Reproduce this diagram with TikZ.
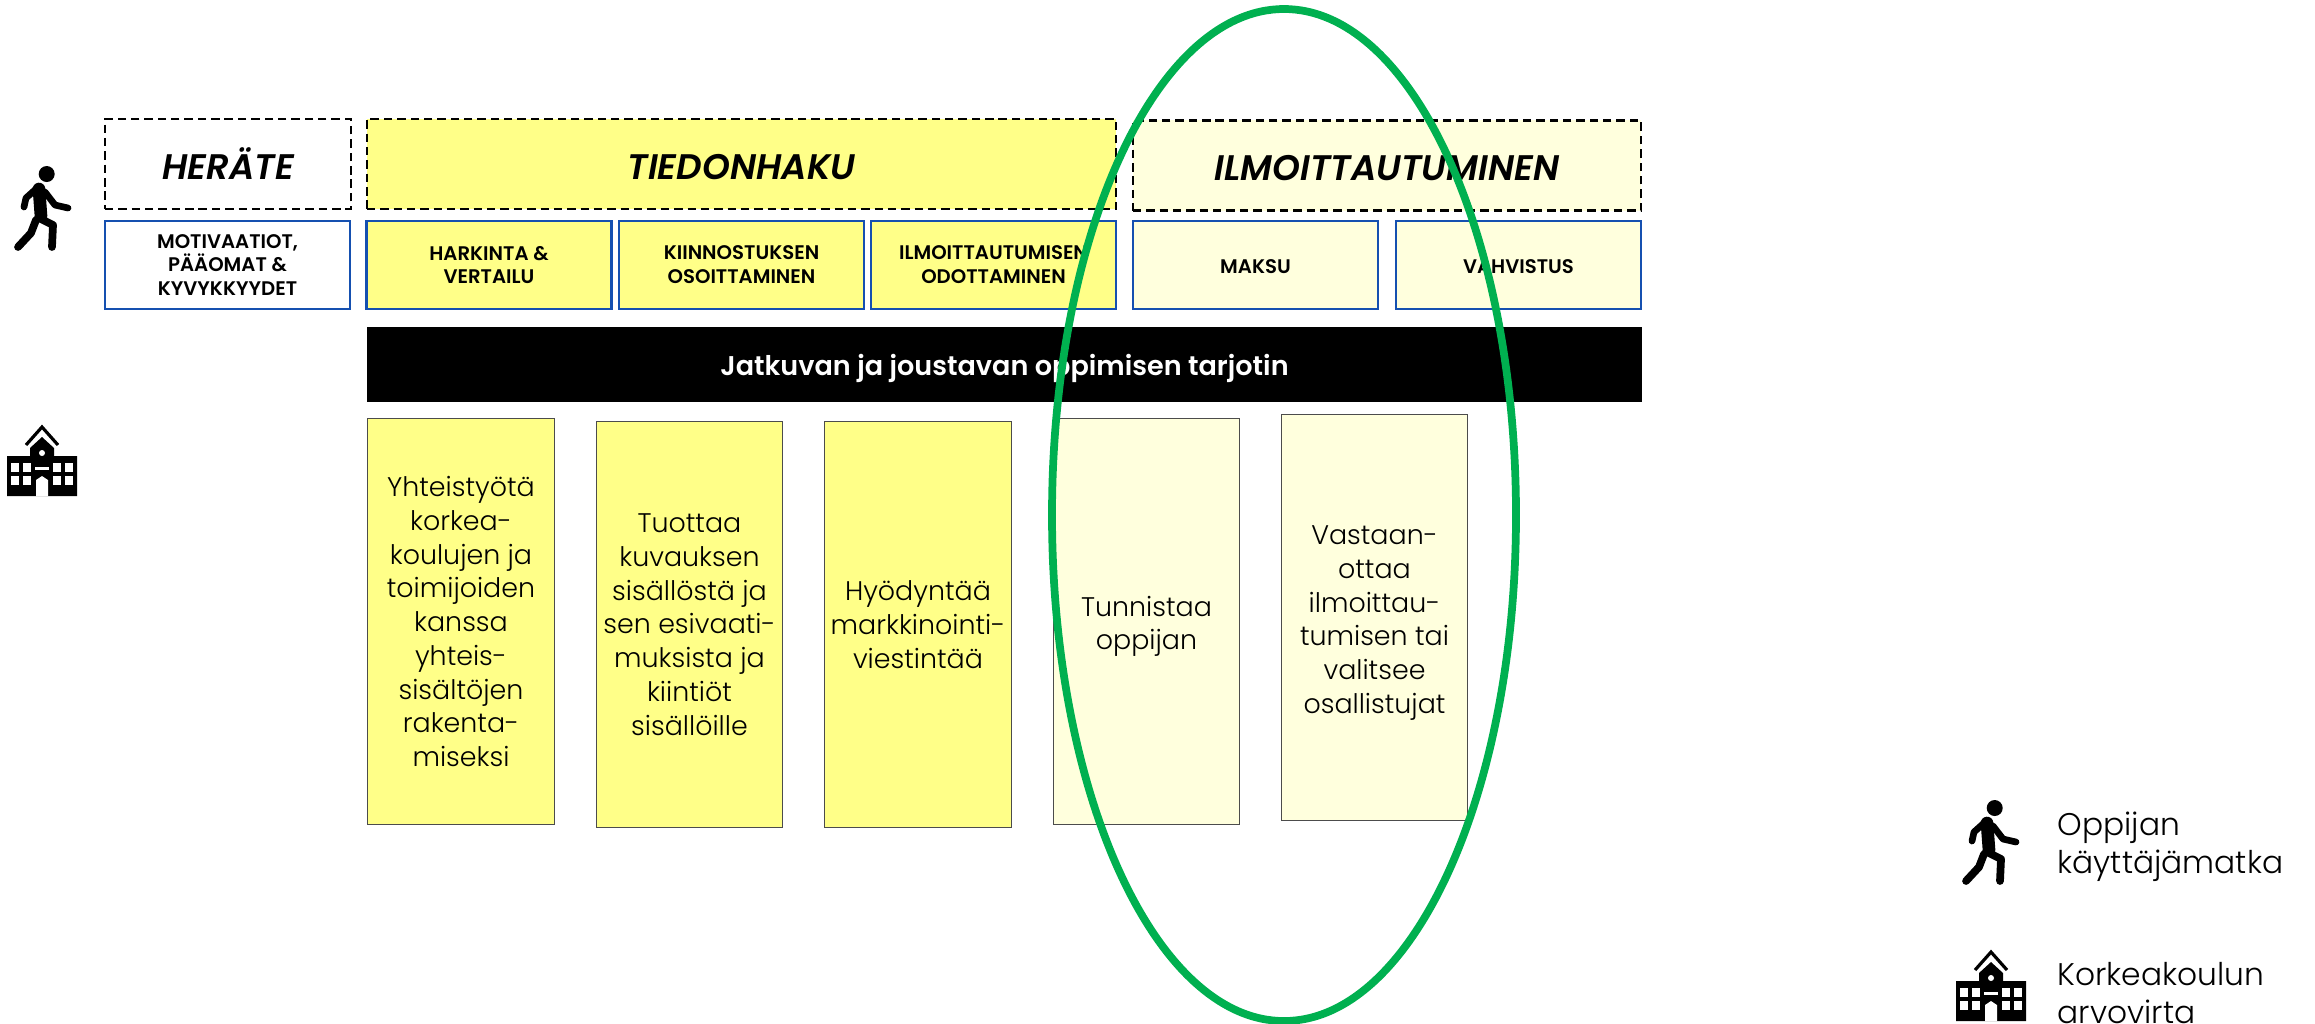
\documentclass[tikz,border=0pt]{standalone}
\usepackage{fontspec}
\setmainfont{Poppins Light}[BoldFont=Poppins SemiBold,BoldItalicFont=Poppins SemiBold Italic]
\usepackage{xcolor}
\definecolor{hakuyellow}{HTML}{FFFF88}
\definecolor{ilmopale}{HTML}{FFFFDD}
\definecolor{subblue}{HTML}{1550B0}
\definecolor{ovalgreen}{HTML}{00B050}
\newcommand{\dropline}{\rule{0pt}{8.5pt}}
\tikzset{
  textdown/.style={execute at begin node=\rule{0pt}{#1}},
  headbox/.style={draw=black,dash pattern=on 2.4pt off 1.4pt,line width=0.7pt,minimum height=0.9cm,text height=0.3cm,text depth=0cm,font=\fontsize{10.1}{12}\selectfont\bfseries\itshape},
  subbox/.style={draw=subblue,line width=0.7pt,minimum width=2.45cm,minimum height=0.88cm,align=center,inner sep=0pt,textdown=4.7pt,font=\fontsize{5.6}{6.8}\selectfont\bfseries},
  textbox/.style={draw=black!70,line width=0.3pt,minimum width=1.86cm,minimum height=4.05cm,align=center,inner sep=0pt,font=\fontsize{7.65}{9.6}\selectfont},
  legendtext/.style={anchor=west,align=left,inner sep=0pt,font=\fontsize{8.9}{10.8}\selectfont},
  walker/.pic={
    \fill (31.7,8) circle (8);
    \draw[line width=3.6pt,line cap=round,line join=round] (24,23) -- (26,50);
    \draw[line width=1.9pt,line cap=round,line join=round] (21,23) -- (11,32) -- (9,41);
    \draw[line width=1.9pt,line cap=round,line join=round] (30,26) -- (40,39) -- (53,42);
    \draw[line width=2.2pt,line cap=round,line join=round] (24,52) -- (38,59) -- (37,81);
    \draw[line width=2.2pt,line cap=round,line join=round] (21,54) -- (16,67) -- (3,81);
  },
  school/.pic={
    \draw[line width=0.9pt] (20,19) -- (36,1) -- (52,19);
    \fill (36,11) -- (24,22) -- (24,30) -- (71,30) -- (71,70) -- (1,70) -- (1,30) -- (48,30) -- (48,22) -- cycle;
    \fill[white] (36,27) circle (3);
    \foreach \wx in {5,17,47,59} \foreach \wy in {37,50} \fill[white] (\wx,\wy) rectangle ++(8,9);
    \fill[white] (29,41) rectangle (43,44);
    \fill[white] (30,70) -- (30,54) -- (36,50) -- (42,54) -- (42,70) -- cycle;
  },
}
\begin{document}
\begin{tikzpicture}[x=0.01cm,y=-0.01cm]
\useasboundingbox (0,0) rectangle (2315,1023);
% Phases
\node[headbox,minimum width=2.46cm] (herate) at (228,164) {HERÄTE};
\node[headbox,fill=hakuyellow,minimum width=7.49cm] (tiedonhaku) at (741.5,164) {TIEDONHAKU};
\node[headbox,fill=ilmopale,minimum width=5.08cm] (ilmo) at (1387,165.5) {ILMOITTAUTUMINEN};

% Steps
\node[subbox] (motivaatiot) at (227.5,265) {MOTIVAATIOT,\\PÄÄOMAT \&\\KYVYKKYYDET};
\node[subbox,fill=hakuyellow] (harkinta) at (489,265) {HARKINTA \&\\VERTAILU};
\node[subbox,fill=hakuyellow] (kiinnostus) at (741.5,265) {KIINNOSTUKSEN\\OSOITTAMINEN};
\node[subbox,fill=hakuyellow] (odotus) at (993.5,265) {ILMOITTAUTUMISEN\\ODOTTAMINEN};
\node[subbox,fill=ilmopale] (maksu) at (1255.5,265) {MAKSU};
\node[subbox,fill=ilmopale] (vahvistus) at (1518.5,265) {VAHVISTUS};

% Black bar
\node[fill=black,text=white,minimum width=12.75cm,minimum height=0.75cm,inner sep=0pt,textdown=8pt,font=\fontsize{7.7}{9}\selectfont\bfseries] (tarjotin) at (1004.5,364.5) {Jatkuvan ja joustavan oppimisen tarjotin};

% Value stream
\node[textbox,fill=hakuyellow] (yhteistyo) at (461,621.5) {Yhteistyötä\\korkea-\\koulujen ja\\toimijoiden\\kanssa\\yhteis-\\sisältöjen\\rakenta-\\miseksi};
\node[textbox,fill=hakuyellow] (tuottaa) at (689.5,624.5) {Tuottaa\\kuvauksen\\sisällöstä ja\\sen esivaati-\\muksista ja\\kiintiöt\\sisällöille};
\node[textbox,fill=hakuyellow] (hyodyntaa) at (918,624.5) {Hyödyntää\\markkinointi-\\viestintää};
\node[textbox,fill=ilmopale] (tunnistaa) at (1146.5,621.5) {\dropline Tunnistaa\\oppijan};
\node[textbox,fill=ilmopale] (vastaanottaa) at (1374.5,617.5) {\dropline Vastaan-\\ottaa\\ilmoittau-\\tumisen tai\\valitsee\\osallistujat};

% Icons
\pic at (15,166) {walker};
\pic at (6,426) {school};

% Legend
\pic at (1963,800) {walker};
\pic at (1955,951) {school};
\node[legendtext] (oppija) at (2057,847) {Oppijan\\käyttäjämatka};
\node[legendtext] (arvovirta) at (2057,993) {Korkeakoulun\\arvovirta};

% Oval
\draw[ovalgreen,line width=2.2pt] (1284,515) ellipse (232 and 506);
\end{tikzpicture}
\end{document}
